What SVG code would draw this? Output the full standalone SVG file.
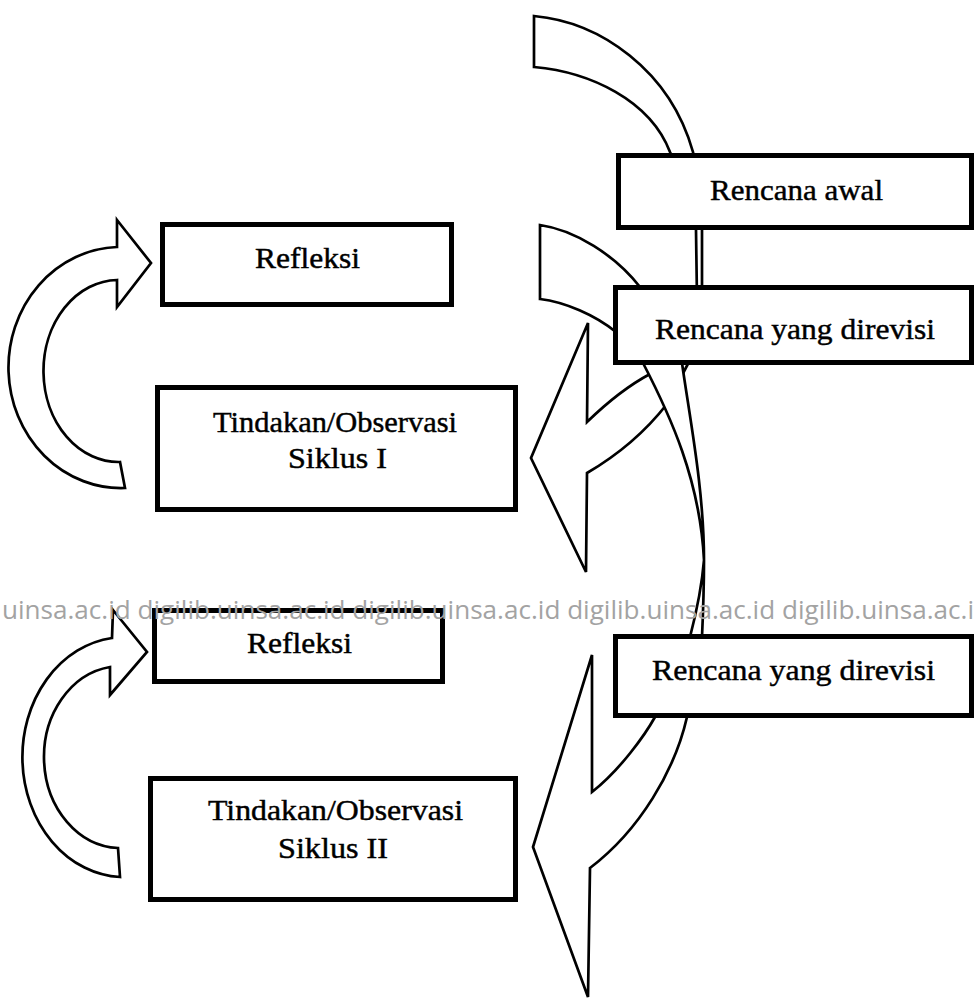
<svg xmlns="http://www.w3.org/2000/svg" width="975" height="1002" viewBox="0 0 975 1002">
<style>
.arrow{fill:#fff;stroke:#000;stroke-width:2.7;stroke-linejoin:miter}
.box{fill:#fff;stroke:#000;stroke-width:5}
.lbl{font-family:"Liberation Serif","Times New Roman",serif;font-size:30px;fill:#000;stroke:#000;stroke-width:0.45}
.wm{font-family:"Open Sans","Liberation Sans",sans-serif;font-size:25px;fill:#a3a3a3}
</style>
<rect width="975" height="1002" fill="#fff"/>
<g id="connectors">
<path id="arrow-awal-to-siklus1" class="arrow" d="M534,16 C600,22 670,70 693,152 C698,180 701,205 702,230 L702,300 L690,360 L667,404 Q635,445 587,473 L586,572 L531,458 L588,323 L587,422 Q620,390 650,374 L660,362 L697,300 L696,230 C690,200 682,175 670,152 C650,100 590,72 534,67 Z"/>
<path id="arrow-revisi-to-siklus2" class="arrow" d="M540,225 C575,230 615,255 640,287 L660,320 L682,363 C690,420 704,490 704,560 C704,590 703,615 702,637 L700,700 L687,717 C675,770 640,830 590,868 L588,997 L533,847 L592,655 L592,792 C620,770 645,735 655,717 L670,690 L690,637 C697,610 702,585 704,560 C700,480 670,415 643,363 L625,345 L616,332 C595,315 565,302 540,299 Z"/>
<path id="arrow-siklus1-to-refleksi1" class="arrow" d="M117,220 L151,263 L117,307 L117,280 A75,91 0 0,0 120,462 L125,488 A112,120 0 0,1 117,247 Z"/>
<path id="arrow-siklus2-to-refleksi2" class="arrow" d="M113,610 L147,652 L110,695 L110,667 A77,91 0 0,0 118,848 L120,877 A102,120 0 0,1 112,638 Z"/>
</g>
<g id="rencana-awal">
<rect class="box" x="618.5" y="155.5" width="353" height="72"/>
<text class="lbl" x="710" y="200" textLength="173" lengthAdjust="spacingAndGlyphs">Rencana awal</text>
</g>
<g id="rencana-revisi-1">
<rect class="box" x="615.5" y="287.5" width="356" height="75"/>
<text class="lbl" x="655" y="339" textLength="280" lengthAdjust="spacingAndGlyphs">Rencana yang direvisi</text>
</g>
<g id="refleksi-1">
<rect class="box" x="162.5" y="224.5" width="289" height="80"/>
<text class="lbl" x="255" y="268" textLength="105" lengthAdjust="spacingAndGlyphs">Refleksi</text>
</g>
<g id="tindakan-1">
<rect class="box" x="157.5" y="387.5" width="358" height="122"/>
<text class="lbl" x="213" y="432" textLength="244" lengthAdjust="spacingAndGlyphs">Tindakan/Observasi</text>
<text class="lbl" x="288" y="468" textLength="99" lengthAdjust="spacingAndGlyphs">Siklus I</text>
</g>
<g id="refleksi-2">
<rect class="box" x="154.5" y="610.5" width="288" height="71"/>
<text class="lbl" x="247" y="653" textLength="105" lengthAdjust="spacingAndGlyphs">Refleksi</text>
</g>
<g id="tindakan-2">
<rect class="box" x="150.5" y="778.5" width="365" height="121"/>
<text class="lbl" x="208" y="820" textLength="255" lengthAdjust="spacingAndGlyphs">Tindakan/Observasi</text>
<text class="lbl" x="278" y="858" textLength="110" lengthAdjust="spacingAndGlyphs">Siklus II</text>
</g>
<g id="rencana-revisi-2">
<rect class="box" x="615.5" y="636.5" width="356" height="79"/>
<text class="lbl" x="652" y="680" textLength="283" lengthAdjust="spacingAndGlyphs">Rencana yang direvisi</text>
</g>
<text class="wm" x="2" y="619" textLength="972" lengthAdjust="spacingAndGlyphs">uinsa.ac.id digilib.uinsa.ac.id digilib.uinsa.ac.id digilib.uinsa.ac.id digilib.uinsa.ac.i</text>
</svg>
